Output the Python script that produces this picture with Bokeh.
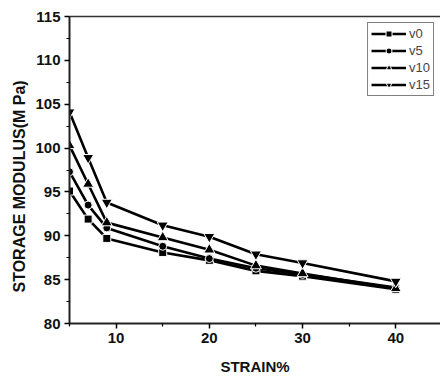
from bokeh.plotting import figure
from bokeh.models import Legend, LegendItem, LinearAxis, FixedTicker, Title
from bokeh.embed import file_html
from bokeh.resources import INLINE

strain = [5, 7, 9, 15, 20, 25, 30, 40]
v0 = [95.1, 91.9, 89.7, 88.1, 87.2, 86.0, 85.4, 83.9]
v5 = [97.3, 93.5, 90.9, 88.8, 87.4, 86.3, 85.6, 84.1]
v10 = [100.3, 95.9, 91.5, 89.8, 88.4, 86.6, 85.7, 84.0]
v15 = [104.1, 98.9, 93.8, 91.2, 89.9, 87.9, 86.9, 84.8]
series_names = ["v0", "v5", "v10", "v15"]
x_ticks = [10, 20, 30, 40]
y_ticks = [80, 85, 90, 95, 100, 105, 110, 115]

FONT = "Liberation Sans"

p = figure(width=440, height=377, x_range=(5, 44.8), y_range=(80, 115),
           output_backend="svg", toolbar_location=None,
           min_border_left=69, min_border_right=0, min_border_top=16, min_border_bottom=53)
p.outline_line_color = None
p.grid.visible = False
p.background_fill_color = "white"
p.border_fill_color = "white"

bx = p.below[0]
ly = p.left[0]
for ax in [bx, ly]:
    ax.axis_line_width = 2
    ax.axis_line_color = "#222222"
    ax.major_tick_line_width = 1.5
    ax.minor_tick_line_width = 1.2
    ax.major_tick_out = 5
    ax.major_tick_in = 0
    ax.minor_tick_out = 3
    ax.minor_tick_in = 0
    ax.major_label_text_font = FONT
    ax.major_label_text_font_style = "bold"
    ax.major_label_text_font_size = "15px"
    ax.major_label_text_color = "#111111"
    ax.axis_label_text_font = FONT
    ax.axis_label_text_font_style = "bold"
    ax.axis_label_text_color = "#111111"

bx.ticker = FixedTicker(ticks=x_ticks, minor_ticks=[5, 15, 25, 35, 45])
ly.ticker = FixedTicker(ticks=y_ticks, minor_ticks=[82.5, 87.5, 92.5, 97.5, 102.5, 107.5, 112.5])
bx.axis_label = "STRAIN%"
bx.axis_label_text_font_size = "15px"
bx.axis_label_standoff = 12
bx.major_label_standoff = 4
ly.major_label_standoff = 4

# top line
top = LinearAxis(ticker=FixedTicker(ticks=[]), axis_line_color="#333333", axis_line_width=1.5,
                 major_tick_out=0, minor_tick_out=0, major_label_text_font_size="0px",
                 major_label_standoff=0)
p.add_layout(top, "above")

ytitle = Title(text="STORAGE MODULUS(M Pa)", align="left", offset=31,
               text_font=FONT, text_font_style="bold", text_font_size="16px",
               text_color="#111111")
p.add_layout(ytitle, "left")

markers = ["square", "circle", "triangle", "inverted_triangle"]
sizes = [8, 8, 11, 11]
items = []
for name, ys, mk, sz in zip(series_names, [v0, v5, v10, v15], markers, sizes):
    ln = p.line(strain, ys, line_color="black", line_width=2.6)
    sc = p.scatter(strain, ys, marker=mk, size=sz, fill_color="black",
                   line_color="white", line_width=1.0)
    items.append(LegendItem(label=name, renderers=[ln, sc]))

legend = Legend(items=items, location="top_right", glyph_width=35, glyph_height=15,
                spacing=2, padding=3, margin=6, label_standoff=3,
                label_text_font=FONT, label_text_font_size="13px",
                label_height=15, border_line_color="black", border_line_width=1)
p.add_layout(legend)

open("out.html", "w").write(file_html(p, INLINE))
